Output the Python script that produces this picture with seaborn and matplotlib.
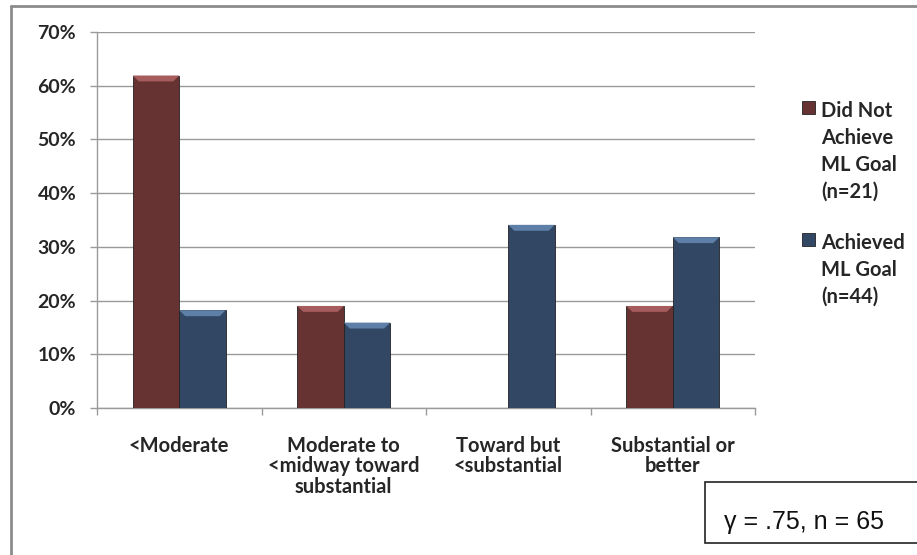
import matplotlib
matplotlib.use("Agg")
import matplotlib.pyplot as plt
from matplotlib.patches import Rectangle, Polygon
from matplotlib.ticker import PercentFormatter
import seaborn as sns
import pandas as pd

categories = ["<Moderate", "Moderate to\n<midway toward\nsubstantial",
              "Toward but\n<substantial", "Substantial or\nbetter"]
did_not_achieve = [61.9, 19.0, 0.0, 19.0]
achieved = [18.2, 15.9, 34.1, 31.8]
series_names = ["Did Not\nAchieve\nML Goal\n(n=21)", "Achieved\nML Goal\n(n=44)"]
y_ticks = [0, 10, 20, 30, 40, 50, 60, 70]
stat_text = "γ = .75, n = 65"

colors = ["#6E2A2A", "#2A466B"]
bevel_colors = ["#A65C5C", "#5E80A8"]

df = pd.DataFrame({
    "category": categories * 2,
    "value": did_not_achieve + achieved,
    "group": [series_names[0]] * 4 + [series_names[1]] * 4,
})

sns.set_theme(style="white")
plt.rcParams["font.family"] = ["Lato", "DejaVu Sans"]
plt.rcParams["font.weight"] = "bold"

fig = plt.figure(figsize=(9.17, 5.55), dpi=100)
ax = fig.add_axes([97 / 917, 1 - 408 / 555, (755 - 97) / 917, (408 - 32) / 555])

sns.barplot(data=df, x="category", y="value", hue="group", order=categories,
            hue_order=series_names, palette=colors, width=0.565, gap=0,
            edgecolor="#222222", linewidth=0.6, ax=ax, legend=True, zorder=3)

# Bevelled top on each bar
for bar in ax.patches:
    h = bar.get_height()
    if h <= 0:
        continue
    x0 = bar.get_x()
    w = bar.get_width()
    fc = bar.get_facecolor()
    idx = 0 if fc[0] > fc[2] else 1
    inset = w * 0.13
    bh = 1.1
    poly = Polygon([(x0, h), (x0 + w, h), (x0 + w - inset, h - bh), (x0 + inset, h - bh)],
                   closed=True, facecolor=bevel_colors[idx], edgecolor="none", zorder=4)
    ax.add_patch(poly)

ax.set_xlim(-0.5, 3.5)
ax.set_ylim(0, 70)
ax.set_yticks(y_ticks)
ax.yaxis.set_major_formatter(PercentFormatter(decimals=0))
ax.set_xlabel("")
ax.set_ylabel("")
ax.grid(axis="y", color="#9a9a9a", linewidth=1.0, zorder=0)
ax.set_axisbelow(True)
for side in ["top", "right"]:
    ax.spines[side].set_visible(False)
for side in ["left", "bottom"]:
    ax.spines[side].set_color("#9a9a9a")
    ax.spines[side].set_linewidth(1.0)

ax.tick_params(axis="y", which="major", length=5, width=1, color="#9a9a9a",
               pad=10, labelsize=14, left=True)
ax.set_xticks([-0.5, 0.5, 1.5, 2.5, 3.5], minor=True)
ax.tick_params(axis="x", which="minor", length=5, width=1, color="#9a9a9a", bottom=True)
ax.tick_params(axis="x", which="major", length=0, pad=20, labelsize=14.5)
for lbl in ax.get_xticklabels():
    lbl.set_linespacing(1.03)
    lbl.set_fontweight("bold")
    lbl.set_verticalalignment("top")
for lbl in ax.get_yticklabels():
    lbl.set_fontweight("bold")

# Legend at the right of the plot
handles, labels = ax.get_legend_handles_labels()
leg = ax.legend(handles, labels, loc="upper left", bbox_to_anchor=(802 / 917, 1 - 101 / 555),
                bbox_transform=fig.transFigure, frameon=False,
                prop={"family": "Lato", "weight": "bold", "size": 14.5},
                handlelength=0.65, handleheight=0.65, handletextpad=0.3,
                labelspacing=1.55, borderaxespad=0, borderpad=0)
for txt in leg.get_texts():
    txt.set_linespacing(1.43)
for packer in leg._legend_handle_box.get_children():
    for row in packer.get_children():
        row.align = "top"

# Outer frame of the figure
fig.add_artist(plt.Line2D([11 / 917, 11 / 917], [0, 1 - 6 / 555], transform=fig.transFigure,
                          color="#8c8c8c", linewidth=2))
fig.add_artist(plt.Line2D([11 / 917, 1], [1 - 6 / 555, 1 - 6 / 555], transform=fig.transFigure,
                          color="#8c8c8c", linewidth=2))

# Statistic box
fig.add_artist(Rectangle((705 / 917, 1 - 543 / 555), 0.5, 61 / 555, transform=fig.transFigure,
                         facecolor="white", edgecolor="#222222", linewidth=1.2, clip_on=False))
fig.text(724 / 917, 1 - 522 / 555, stat_text, family=["Liberation Sans", "DejaVu Sans"],
         fontsize=18, fontweight="normal", va="center", ha="left", color="#111111")

fig.savefig("out.png", dpi=100, facecolor="white")
